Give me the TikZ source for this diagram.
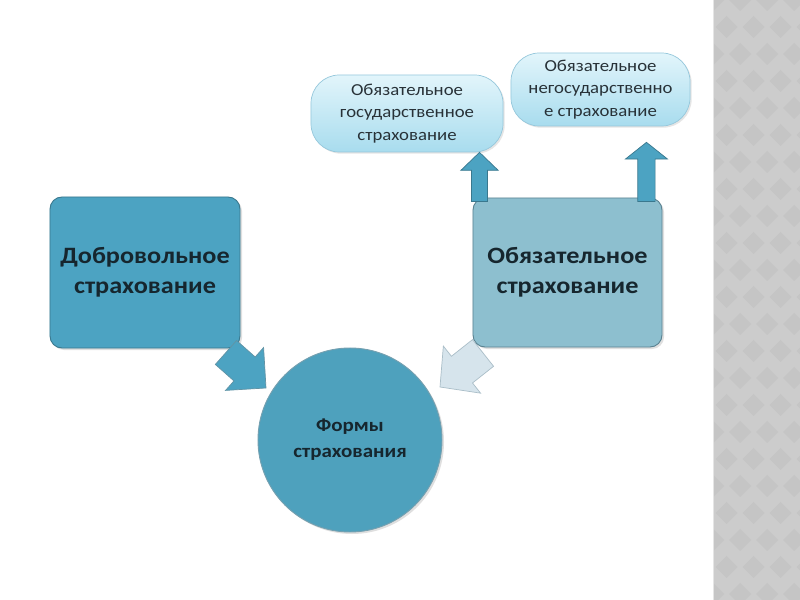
\documentclass[tikz,border=0pt]{standalone}
\usepackage{fontspec}
\setmainfont{Carlito}[FakeStretch=1.12]
\usetikzlibrary{calc,shadows}
\definecolor{tealbox}{RGB}{76,163,194}
\definecolor{tealedge}{RGB}{58,120,142}
\definecolor{lightbox}{RGB}{141,191,207}
\definecolor{lightedge}{RGB}{90,130,145}
\definecolor{circfill}{RGB}{78,161,189}
\definecolor{bubtop}{RGB}{226,245,251}
\definecolor{bubbot}{RGB}{168,220,238}
\definecolor{bubedge}{RGB}{150,200,220}
\definecolor{txt}{RGB}{22,38,46}
\definecolor{bubtxt}{RGB}{40,50,56}
\definecolor{stripgray}{RGB}{204,204,204}
\definecolor{stripdark}{RGB}{197,197,197}
\definecolor{chevlight}{RGB}{214,228,236}
\definecolor{chevedge}{RGB}{170,190,200}
\newcommand\blockarr[6]{%
  \path ($(#2)!#5!(#1)$) coordinate (bnk);
  \draw[#6] ($(#1)!#3!90:(#2)$) -- ($(bnk)!#3!-90:(#1)$) -- ($(bnk)!#4!-90:(#1)$) -- (#2)
    -- ($(bnk)!#4!90:(#1)$) -- ($(bnk)!#3!90:(#1)$) -- ($(#1)!#3!-90:(#2)$) -- cycle;}
\begin{document}
\begin{tikzpicture}[x=0.03cm,y=-0.03cm,
  bigbox/.style={rectangle, rounded corners=0.36cm, line width=0.8pt, align=center,
    text=txt, font=\fontsize{20}{26}\selectfont\bfseries,
    drop shadow={shadow xshift=0.06cm, shadow yshift=-0.06cm, opacity=0.25}},
  bubble/.style={rectangle, rounded corners=0.85cm, draw=bubedge, line width=0.6pt,
    top color=bubtop, bottom color=bubbot, align=center, text=bubtxt,
    font=\fontsize{14.3}{19}\selectfont,
    drop shadow={shadow xshift=0.05cm, shadow yshift=-0.05cm, opacity=0.2}},
  uparr/.style={fill=tealbox, draw=tealedge, line width=0.6pt},
  chevdark/.style={fill=tealbox, draw=tealedge!80, line width=0.6pt},
  chevwhite/.style={fill=chevlight, draw=chevedge, line width=0.6pt}]
\useasboundingbox (0,0) rectangle (800,600);
\fill[white] (0,0) rectangle (800,600);
% grey strip
\begin{scope}
\clip (713,0) rectangle (800,600);
\fill[stripgray] (713,0) rectangle (800,600);
\foreach \i in {0,...,4}{
  \foreach \j in {0,...,24}{
    \pgfmathsetmacro\cx{713+\i*27+mod(\j,2)*13.5}
    \pgfmathsetmacro\cy{\j*27}
    \fill[stripdark] (\cx,\cy-11) -- (\cx+11,\cy) -- (\cx,\cy+11) -- (\cx-11,\cy) -- cycle;
  }}
\draw[white!90!black, line width=1pt] (713.5,0) -- (713.5,600);
\end{scope}
% nodes
\node[bigbox, fill=tealbox, draw=tealedge, minimum width=5.7cm, minimum height=4.53cm]
  (vol) at (145,272.5) {Добровольное\\страхование};
\node[bigbox, fill=lightbox, draw=lightedge, minimum width=5.67cm, minimum height=4.47cm]
  (obl) at (567.5,272.5) {Обязательное\\страхование};
\node[circle, fill=circfill, draw=tealedge!70, line width=0.8pt, minimum size=5.52cm,
  align=center, text=txt, font=\fontsize{16}{22}\selectfont\bfseries,
  drop shadow={shadow xshift=0.06cm, shadow yshift=-0.06cm, opacity=0.25}]
  (forms) at (350,440) {Формы\\страхования};
\node[bubble, minimum width=5.76cm, minimum height=2.31cm] (gos) at (407,113.5)
  {Обязательное\\государственное\\страхование};
\node[bubble, minimum width=5.37cm, minimum height=2.19cm] (neg) at (600.5,89.5)
  {Обязательное\\негосударственно\\е страхование};
% up arrows
\coordinate (u1s) at ($(obl.north west)+(7,4)$);
\coordinate (u1e) at (u1s |- gos.south);
\coordinate (u2s) at ($(obl.north east)+(-16,4)$);
\coordinate (u2e) at ($(u2s |- neg.south)+(0,16)$);
\blockarr{u1s}{u1e}{0.24cm}{0.56cm}{0.54cm}{uparr}
\blockarr{u2s}{u2e}{0.26cm}{0.63cm}{0.50cm}{uparr}
% chevron arrows into the circle
\coordinate (c1s) at ($(vol.south east)+(-14.5,4)$);
\coordinate (c1e) at ($(forms.center)+(-84,-52)$);
\coordinate (c2s) at ($(obl.south west)+(10.5,5.5)$);
\coordinate (c2e) at ($(forms.center)+(90,-53)$);
\blockarr{c1s}{c1e}{0.48cm}{0.86cm}{0.86cm}{chevdark}
\blockarr{c2s}{c2e}{0.51cm}{0.9cm}{0.84cm}{chevwhite}
\end{tikzpicture}
\end{document}
